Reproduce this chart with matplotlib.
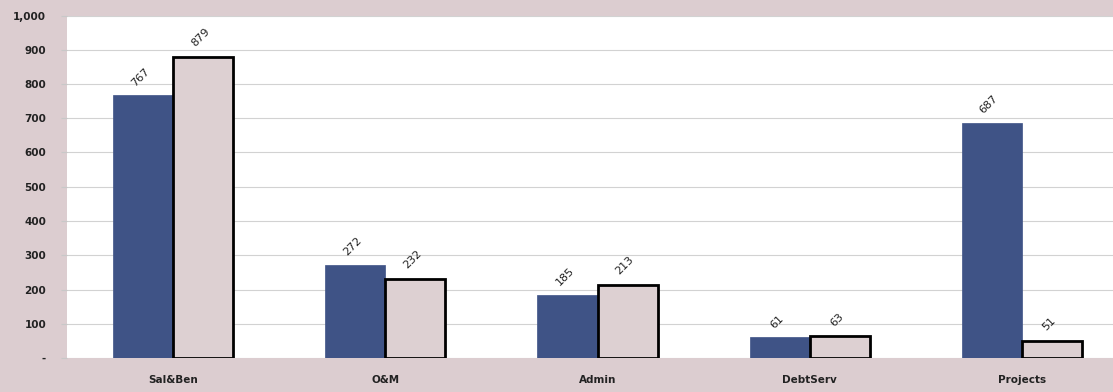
import matplotlib
matplotlib.use("Agg")
import matplotlib.pyplot as plt
import numpy as np

categories = ["Sal&Ben", "O&M", "Admin", "DebtServ", "Projects"]
series_a = [767, 272, 185, 61, 687]
series_b = [879, 232, 213, 63, 51]
yticks = [0, 100, 200, 300, 400, 500, 600, 700, 800, 900, 1000]
ytick_labels = ["-", "100", "200", "300", "400", "500", "600", "700", "800", "900", "1,000"]

plt.rcParams['font.family'] = ['DejaVu Sans']

W, H = 1113, 392
fig = plt.figure(figsize=(W / 100, H / 100), dpi=100)
fig.patch.set_facecolor("#dccdd0")
ax = fig.add_axes([67 / W, 34 / H, (1128 - 67) / W, (358 - 15.5) / H])
ax.set_facecolor("white")

x = np.arange(len(categories))
bw = 0.283
blue = "#3f5386"
pink = "#ddd0d2"
ax.bar(x - bw / 2, series_a, width=bw, color=blue, edgecolor=blue, linewidth=0.5, zorder=3)
ax.bar(x + bw / 2, series_b, width=bw, color=pink, edgecolor="black", linewidth=2.0, zorder=3)

for xi, v in zip(x - bw / 2, series_a):
    ax.annotate(str(v), (xi, v), xytext=(-2, 5), textcoords="offset points",
                rotation=45, ha="center", va="bottom", fontsize=8, color="#222222")
for xi, v in zip(x + bw / 2, series_b):
    ax.annotate(str(v), (xi, v), xytext=(-2, 6), textcoords="offset points",
                rotation=45, ha="center", va="bottom", fontsize=8, color="#222222")

ax.set_xlim(-0.5, 4.5)
ax.set_ylim(0, 1000)
ax.set_yticks(yticks)
ax.set_yticklabels(ytick_labels, fontsize=7.5, fontweight="bold", color="#222222")
ax.set_xticks(x)
ax.set_xticklabels(categories, fontsize=7.5, fontweight="bold", color="#222222")
ax.tick_params(axis="x", length=0, pad=12)
ax.tick_params(axis="y", length=4, color="#c8c8c8", pad=11)
ax.grid(axis="y", color="#d2d2d2", linewidth=0.8, zorder=0)
for s in ax.spines.values():
    s.set_visible(False)

fig.savefig("out.png", dpi=100, facecolor=fig.get_facecolor())
